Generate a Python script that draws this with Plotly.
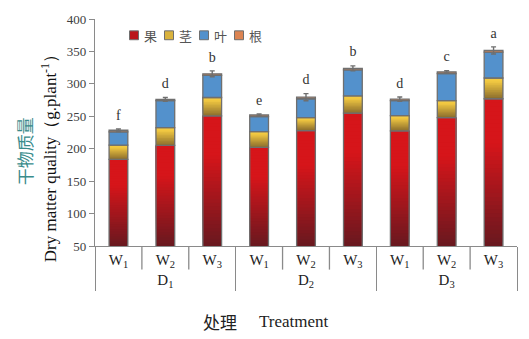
import plotly.graph_objects as go

# Treatments: drought level (D) x water level (W)
groups = ["D<sub>1</sub>", "D<sub>2</sub>", "D<sub>3</sub>"]
levels = ["W<sub>1</sub>", "W<sub>2</sub>", "W<sub>3</sub>"]

# Dry matter per organ (g/plant), stacked from the bottom: fruit, stem, leaf, root
fruit = [183.5, 205.0, 250.5, 202.0, 228.0, 255.0, 227.5, 248.0, 277.0]
stem = [22.0, 27.5, 28.5, 24.5, 20.0, 26.5, 23.5, 26.0, 32.0]
leaf = [20.5, 41.5, 34.0, 23.0, 29.0, 40.0, 23.0, 42.0, 40.0]
root = [2.5, 2.0, 2.5, 2.5, 2.5, 2.5, 2.5, 2.5, 2.5]
errors = [2.0, 3.0, 4.5, 1.5, 5.5, 3.8, 3.3, 1.8, 5.5]
letters = ["f", "d", "b", "e", "d", "b", "d", "c", "a"]

series_names = ["果", "茎", "叶", "根"]
tick_vals = [50, 100, 150, 200, 250, 300, 350, 400]

SERIF = "Liberation Serif, Times New Roman, serif"
CJK = "Noto Sans CJK SC, sans-serif"
EDGE = "#6f6f6f"
AXIS = "#8a8a8a"
RED_DARK, RED_BRIGHT = (104, 24, 31), (214, 21, 26)
YEL_DARK, YEL_BRIGHT = (138, 108, 45), (243, 202, 66)
BLUE = "#5391cc"
ORANGE = "#dc8452"
BAR_W = 0.4
LETTER_PAD = 9  # gap between error cap and letter, in axis units
Y_MIN, Y_MAX = tick_vals[0], tick_vals[-1]

X = [[g for g in groups for _ in levels], [w for _ in groups for w in levels]]


def add(a, b):
    return [p + q for p, q in zip(a, b)]


stem_base = fruit
leaf_base = add(fruit, stem)
root_base = add(leaf_base, leaf)
total = add(root_base, root)


def mix(c0, c1, t):
    r, g, b = (round(u + (v - u) * t) for u, v in zip(c0, c1))
    return f"rgb({r},{g},{b})"


def shaded(bottom, top, n, dark, bright, knee):
    """Vertical shading of a stacked segment, dark at its foot, bright near its top.
    Each band runs up to the segment top and the next band is painted over it,
    so no seams appear between bands."""
    out = []
    for k in range(n):
        lo = [b + (t - b) * k / n for b, t in zip(bottom, top)]
        h = [t - l for l, t in zip(lo, top)]
        frac = (k + 0.5) / n
        out.append(go.Bar(
            x=X, y=h, base=lo, width=BAR_W, textposition="none",
            marker=dict(color=mix(dark, bright, min(1.0, frac / knee)), line=dict(width=0)),
            showlegend=False, hoverinfo="skip",
        ))
    return out


def outline(base, size):
    return go.Bar(
        x=X, y=size, base=base, width=BAR_W, textposition="none",
        marker=dict(color="rgba(0,0,0,0)", line=dict(color=EDGE, width=1.3)),
        showlegend=False, hoverinfo="skip",
    )


fig = go.Figure()

# fruit: the part hidden below the axis floor, then the shaded visible part
floor = [min(Y_MIN, v) for v in fruit]
fig.add_trace(go.Bar(x=X, y=floor, base=[0] * 9, width=BAR_W, textposition="none",
                     marker=dict(color=mix(RED_DARK, RED_BRIGHT, 0), line=dict(width=0)),
                     showlegend=False, hoverinfo="skip"))
for tr in shaded(floor, fruit, 36, RED_DARK, RED_BRIGHT, 0.7):
    fig.add_trace(tr)
fig.add_trace(outline([0] * 9, fruit))

# stem
for tr in shaded(stem_base, leaf_base, 12, YEL_DARK, YEL_BRIGHT, 0.85):
    fig.add_trace(tr)
fig.add_trace(outline(stem_base, stem))

# leaf
fig.add_trace(go.Bar(x=X, y=leaf, base=leaf_base, width=BAR_W, name=series_names[2],
                     textposition="none",
                     marker=dict(color=BLUE, line=dict(color=EDGE, width=1.3)),
                     showlegend=False))

# root, carrying the error bars of the whole plant
fig.add_trace(go.Bar(x=X, y=root, base=root_base, width=BAR_W, name=series_names[3],
                     textposition="none",
                     marker=dict(color=ORANGE, line=dict(color=EDGE, width=1.3)),
                     error_y=dict(type="data", array=errors, color=EDGE, thickness=1.4, width=2.5),
                     showlegend=False))

# significance letters
fig.add_trace(go.Scatter(
    x=X, y=[t + e + LETTER_PAD for t, e in zip(total, errors)], mode="text",
    text=letters, textposition="top center",
    textfont=dict(family=SERIF, size=14, color="#333333"),
    showlegend=False, hoverinfo="skip",
))

shapes = []
annotations = []

# separators between water levels inside each drought group
n_cat = len(X[0])
for i in range(n_cat - 1):
    if (i + 1) % len(levels):
        shapes.append(dict(type="line", xref="paper", yref="paper",
                           x0=(i + 1) / n_cat, x1=(i + 1) / n_cat, y0=0, y1=-0.104,
                           line=dict(color=AXIS, width=1.3)))

# legend row
swatches = [mix(RED_DARK, RED_BRIGHT, 0.75), mix(YEL_DARK, YEL_BRIGHT, 0.75), BLUE, ORANGE]
W_PLOT, H_PLOT, L = 422, 230, 95
for k, (nm, col) in enumerate(zip(series_names, swatches)):
    cx = 134 + 35 * k
    shapes.append(dict(type="rect", xref="paper", yref="paper",
                       x0=(cx - 4.5 - L) / W_PLOT, x1=(cx + 4.5 - L) / W_PLOT,
                       y0=(246 - 37) / H_PLOT, y1=(246 - 28) / H_PLOT,
                       fillcolor=col, line=dict(color=EDGE, width=1)))
    annotations.append(dict(xref="paper", yref="paper", x=(cx + 8 - L) / W_PLOT,
                            y=(246 - 32.5) / H_PLOT, text=nm, showarrow=False,
                            xanchor="left", yanchor="middle",
                            font=dict(family=CJK, size=13, color="#555555")))

# axis titles
annotations += [
    dict(xref="paper", yref="paper", x=(24 - L) / W_PLOT, y=(246 - 150) / H_PLOT,
         text="干物质量", textangle=-90, showarrow=False, xanchor="center", yanchor="middle",
         font=dict(family=CJK, size=17, color="#3a8c8c")),
    dict(xref="paper", yref="paper", x=(49 - L) / W_PLOT, y=(246 - 153) / H_PLOT,
         text="Dry matter quality（g.plant<sup>-1</sup>）", textangle=-90,
         showarrow=False, xanchor="center", yanchor="middle",
         font=dict(family=SERIF, size=17, color="#111111")),
    dict(xref="paper", yref="paper", x=(220 - L) / W_PLOT, y=(246 - 323) / H_PLOT,
         text="处理", showarrow=False, xanchor="center", yanchor="middle",
         font=dict(family=CJK, size=17, color="#222222")),
    dict(xref="paper", yref="paper", x=(294 - L) / W_PLOT, y=(246 - 323) / H_PLOT,
         text="Treatment", showarrow=False, xanchor="center", yanchor="middle",
         font=dict(family=SERIF, size=17, color="#222222")),
]

fig.update_layout(
    width=529, height=339,
    margin=dict(l=95, r=12, t=16, b=93),
    paper_bgcolor="white", plot_bgcolor="white",
    barmode="overlay", showlegend=False,
    shapes=shapes, annotations=annotations,
    xaxis=dict(type="multicategory", showline=True, linecolor=AXIS, linewidth=1.3,
               showdividers=True, dividercolor=AXIS, dividerwidth=1.3,
               ticks="", showgrid=False,
               tickfont=dict(family=SERIF, size=15, color="#222222")),
    yaxis=dict(range=[Y_MIN, Y_MAX], tickvals=tick_vals, ticks="outside", ticklen=5,
               tickwidth=1.3, tickcolor=AXIS, showline=True, linecolor=AXIS, linewidth=1.3,
               showgrid=False, zeroline=False,
               tickfont=dict(family=SERIF, size=13, color="#404040")),
)

fig.write_html("out.html")
